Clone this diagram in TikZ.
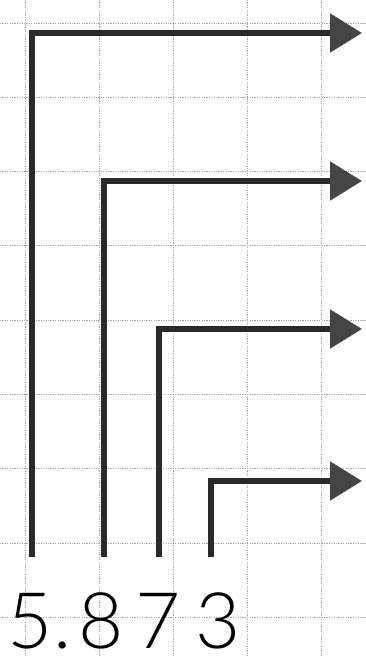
\documentclass[tikz,border=0pt]{standalone}
\usepackage{fontspec}
\usepackage{tikz}
\usetikzlibrary{arrows.meta}
\IfFontExistsTF{Lato Light}{\newfontfamily\digitfont{Lato Light}}{\newfontfamily\digitfont{Lato}}
\definecolor{grgrid}{HTML}{A8A8A8}
\definecolor{grink}{HTML}{2A2A2A}
\definecolor{grhead}{HTML}{454545}

\begin{document}
\begin{tikzpicture}[x=1pt,y=-1pt,
  gridline/.style={grgrid,line width=0.9pt,dash pattern=on 1.2pt off 1.2pt},
  bracket/.style={grink,line width=5.5pt,line join=miter,
    -{Triangle[length=32pt,width=38pt,color=grhead]}},
  digit/.style={inner sep=0pt,anchor=base,font=\digitfont\fontsize{78}{78}\selectfont}]
\useasboundingbox (0,0) rectangle (365,657);
\fill[white] (0,0) rectangle (365,657);
% squared paper
\foreach \i in {0,...,4} \draw[gridline] ({25+74.2*\i},0) -- ({25+74.2*\i},657);
\foreach \j in {0,...,8} \draw[gridline] (0,{23+74.3*\j}) -- (365,{23+74.3*\j});
% digits
\node[digit] (d5) at (30,648) {5};
\node[digit] (pt) at (63,648) {.};
\node[digit] (d8) at (101,648) {8};
\node[digit] (d7) at (158,648) {7};
\node[digit] (d3) at (218,648) {3};
% brackets
\coordinate (b5) at (32,557);  \coordinate (t5) at (362,33);
\coordinate (b8) at (104,557); \coordinate (t8) at (362,181);
\coordinate (b7) at (159,557); \coordinate (t7) at (362,329);
\coordinate (b3) at (211,557); \coordinate (t3) at (362,481);
\draw[bracket] (b5) |- (t5);
\draw[bracket] (b8) |- (t8);
\draw[bracket] (b7) |- (t7);
\draw[bracket] (b3) |- (t3);
\end{tikzpicture}
\end{document}
